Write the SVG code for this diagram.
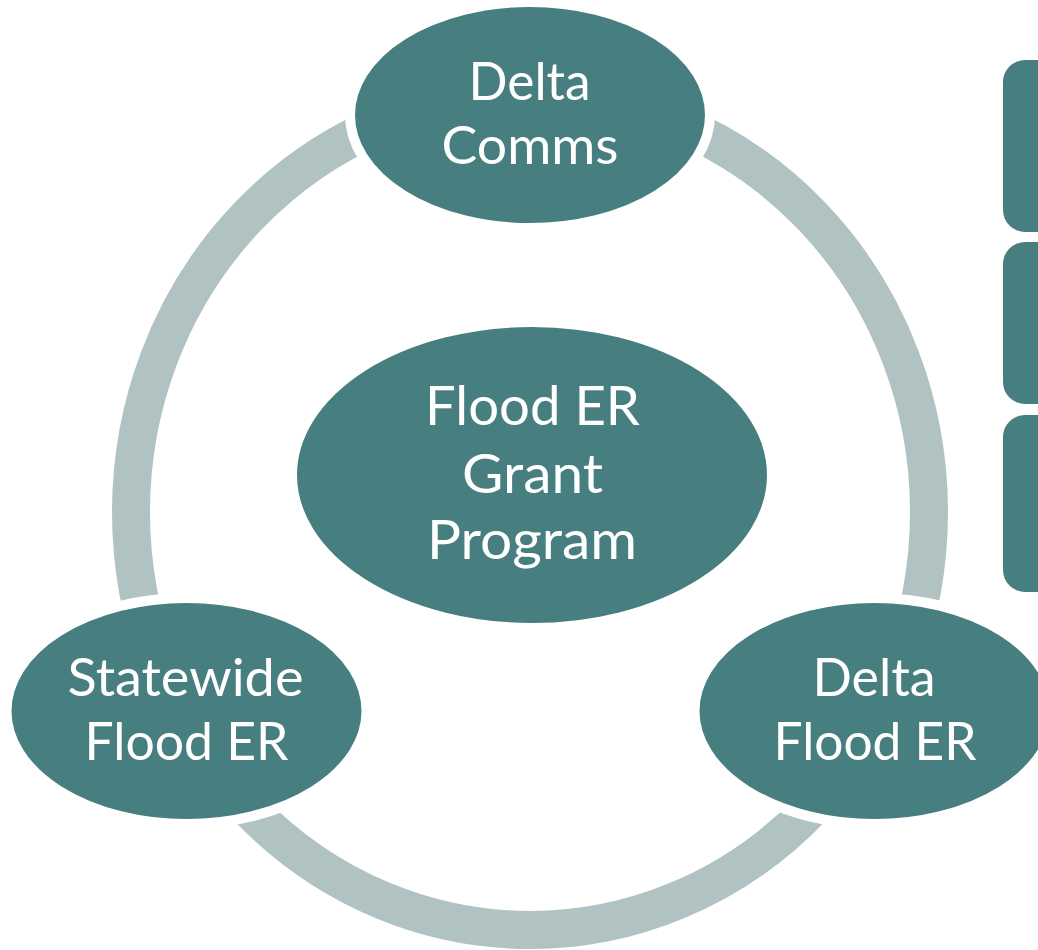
<svg xmlns="http://www.w3.org/2000/svg" width="1038" height="950" viewBox="0 0 1038 950">
  <style>
    .node { fill: #477E7F; stroke: #FFFFFF; stroke-width: 10; }
    .box { fill: #477E7F; }
    .ring { fill: none; stroke: #B0C2C2; stroke-width: 38; }
    .lbl { font-family: "Lato", "Open Sans", "Liberation Sans", sans-serif; fill: #FFFFFF; text-anchor: middle; font-size: 52px; }
    .big { font-size: 54px; }
  </style>
  <rect x="0" y="0" width="1038" height="950" fill="#FFFFFF"/>
  <g id="connectors">
    <ellipse class="ring" cx="530" cy="512" rx="399" ry="418"/>
  </g>
  <g id="side-boxes">
    <rect id="box1" class="box" x="1003" y="60" width="80" height="172" rx="22" ry="22"/>
    <rect id="box2" class="box" x="1003" y="242" width="80" height="162" rx="22" ry="22"/>
    <rect id="box3" class="box" x="1003" y="415" width="80" height="177" rx="22" ry="22"/>
  </g>
  <g id="node-center">
    <ellipse class="node" cx="532" cy="475" rx="240" ry="153"/>
    <text class="lbl big" x="532.5" y="425" textLength="215" lengthAdjust="spacingAndGlyphs">Flood ER</text>
    <text class="lbl big" x="532.5" y="493" textLength="141" lengthAdjust="spacingAndGlyphs">Grant</text>
    <text class="lbl big" x="532" y="559" textLength="210" lengthAdjust="spacingAndGlyphs">Program</text>
  </g>
  <g id="node-delta-comms">
    <ellipse class="node" cx="530" cy="115" rx="180" ry="113"/>
    <text class="lbl" x="529.5" y="100" textLength="122" lengthAdjust="spacingAndGlyphs">Delta</text>
    <text class="lbl" x="530" y="164" textLength="177" lengthAdjust="spacingAndGlyphs">Comms</text>
  </g>
  <g id="node-statewide">
    <ellipse class="node" cx="186.5" cy="711" rx="180" ry="113"/>
    <text class="lbl" x="185.5" y="696" textLength="236" lengthAdjust="spacingAndGlyphs">Statewide</text>
    <text class="lbl" x="186.5" y="760" textLength="204" lengthAdjust="spacingAndGlyphs">Flood ER</text>
  </g>
  <g id="node-delta-flood">
    <ellipse class="node" cx="874.5" cy="711" rx="180" ry="113"/>
    <text class="lbl" x="874" y="696" textLength="123" lengthAdjust="spacingAndGlyphs">Delta</text>
    <text class="lbl" x="875" y="760" textLength="203" lengthAdjust="spacingAndGlyphs">Flood ER</text>
  </g>
</svg>
